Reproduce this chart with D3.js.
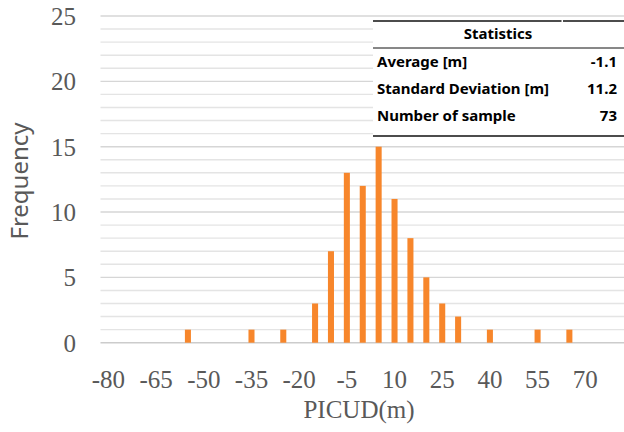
<!DOCTYPE html>
<html>
<head>
<meta charset="utf-8">
<script src="https://cdn.jsdelivr.net/npm/d3@7"></script>
<style>
  html, body { margin: 0; padding: 0; background: #fff; }
  svg { display: block; }
</style>
</head>
<body>
<svg id="chart"></svg>
<script>
"use strict";

// bins (m)
var categories = [-80, -75, -70, -65, -60, -55, -50, -45, -40, -35, -30, -25, -20, -15, -10, -5,
    0, 5, 10, 15, 20, 25, 30, 35, 40, 45, 50, 55, 60, 65, 70, 75, 80];
var counts = [0, 0, 0, 0, 0, 1, 0, 0, 0, 1, 0, 1, 0, 3, 7, 13,
    12, 15, 11, 8, 5, 3, 2, 0, 1, 0, 0, 1, 0, 1, 0, 0, 0];
var xTickLabels = [-80, -65, -50, -35, -20, -5, 10, 25, 40, 55, 70];
var yTicks = [0, 5, 10, 15, 20, 25];

var statRows = ["Average [m]", "Standard Deviation [m]", "Number of sample"];
var statValues = ["-1.1", "11.2", "73"];

var width = 624, height = 432;
var svg = d3.select('#chart').attr('width', width).attr('height', height);

var x = d3.scaleBand()
    .domain(categories)
    .range([100.5, 625])
    .paddingInner(0.62)
    .paddingOuter(0.31);

var y = d3.scaleLinear().domain([0, 25]).range([342.7, 16]);

// gridlines every 1
var grid = svg.append('g');
grid.selectAll('line')
    .data(d3.range(0, 26))
    .join('line')
    .attr('x1', 100.5)
    .attr('x2', 625)
    .attr('y1', d => y(d))
    .attr('y2', d => y(d))
    .attr('stroke', d => d === 0 ? '#cccccc' : (d % 5 === 0 ? '#d6d6d6' : '#e4e4e4'))
    .attr('stroke-width', 1.4);

// bars
svg.append('g')
    .selectAll('rect')
    .data(categories.map((c, i) => ({ c: c, v: counts[i] })).filter(d => d.v > 0))
    .join('rect')
    .attr('x', d => x(d.c))
    .attr('width', x.bandwidth())
    .attr('y', d => y(d.v))
    .attr('height', d => y(0) - y(d.v))
    .attr('fill', '#f7862b');

// x axis labels
var xAxis = d3.axisBottom(x).tickValues(xTickLabels).tickSize(0).tickPadding(0);
var gx = svg.append('g').attr('transform', 'translate(0,' + 368 + ')').call(xAxis);
gx.select('.domain').remove();
gx.selectAll('text')
    .attr('dy', 0)
    .attr('y', 20)
    .attr('fill', '#595959')
    .style('font-family', '"Liberation Serif", "Times New Roman", serif')
    .style('font-size', '25px');

// y axis labels
var yAxis = d3.axisLeft(y).tickValues(yTicks).tickSize(0).tickPadding(0);
var gy = svg.append('g').attr('transform', 'translate(76,0)').call(yAxis);
gy.select('.domain').remove();
gy.selectAll('text')
    .attr('fill', '#595959')
    .attr('dy', '0.34em')
    .style('font-family', '"Liberation Serif", "Times New Roman", serif')
    .style('font-size', '25px');

// axis titles
svg.append('text')
    .attr('x', 359)
    .attr('y', 418)
    .attr('text-anchor', 'middle')
    .attr('fill', '#595959')
    .style('font-family', '"Liberation Serif", "Times New Roman", serif')
    .style('font-size', '25px')
    .text('PICUD(m)');

svg.append('text')
    .attr('transform', 'translate(28,181) rotate(-90)')
    .attr('text-anchor', 'middle')
    .attr('fill', '#595959')
    .style('font-family', '"Noto Sans", "Liberation Sans", sans-serif')
    .style('font-size', '24px')
    .text('Frequency');

// statistics table
var tbl = svg.append('g');
tbl.append('rect')
    .attr('x', 373).attr('y', 21).attr('width', 260).attr('height', 115)
    .attr('fill', '#fff');
tbl.append('line').attr('x1', 373).attr('x2', 561.5).attr('y1', 21).attr('y2', 21)
    .attr('stroke', '#111').attr('stroke-width', 1.6);
tbl.append('line').attr('x1', 563).attr('x2', 624).attr('y1', 21).attr('y2', 21)
    .attr('stroke', '#111').attr('stroke-width', 1.6);
tbl.append('line').attr('x1', 373).attr('x2', 624).attr('y1', 48).attr('y2', 48)
    .attr('stroke', '#111').attr('stroke-width', 1);
tbl.append('line').attr('x1', 373).attr('x2', 624).attr('y1', 136).attr('y2', 136)
    .attr('stroke', '#111').attr('stroke-width', 1.6);

var tFont = '"Noto Sans", "Liberation Sans", sans-serif';
tbl.append('text')
    .attr('x', 498).attr('y', 39)
    .attr('text-anchor', 'middle')
    .style('font-family', tFont).style('font-size', '15px').style('font-weight', 'bold')
    .attr('fill', '#000')
    .text('Statistics');

tbl.selectAll('.lab')
    .data(statRows)
    .join('text')
    .attr('class', 'lab')
    .attr('x', 377)
    .attr('y', (d, i) => 67 + i * 27)
    .style('font-family', tFont).style('font-size', '15px').style('font-weight', 'bold')
    .attr('fill', '#000')
    .text(d => d);

tbl.selectAll('.val')
    .data(statValues)
    .join('text')
    .attr('class', 'val')
    .attr('x', 617)
    .attr('y', (d, i) => 67 + i * 27)
    .attr('text-anchor', 'end')
    .style('font-family', tFont).style('font-size', '15px').style('font-weight', 'bold')
    .attr('fill', '#000')
    .text(d => d);
</script>
</body>
</html>
